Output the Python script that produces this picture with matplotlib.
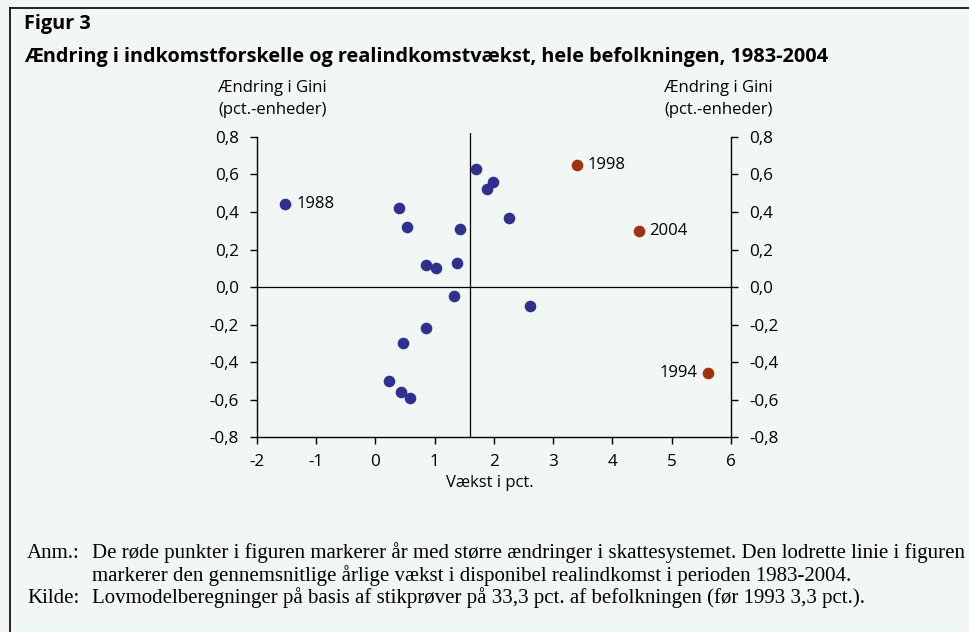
"""
Scatter: change in Gini vs real income growth, 1983-2004.
"""

import numpy as np
import matplotlib
matplotlib.use('Agg')
import matplotlib.pyplot as plt
from matplotlib.ticker import FuncFormatter
from matplotlib.lines import Line2D

# Data

blue_growth = [0.40, 0.54, 0.85, 1.03, 1.38, 1.43, 1.70, 1.89, 1.99, 2.25,
               1.33, 2.61, 0.85, 0.46, 0.23, 0.44, 0.58]
blue_gini = [0.42, 0.32, 0.12, 0.10, 0.13, 0.31, 0.63, 0.52, 0.56, 0.37,
             -0.05, -0.10, -0.22, -0.30, -0.50, -0.56, -0.59]

year_1988 = [-1.52, 0.44]
red_years = ['1998', '2004', '1994']
red_growth = [3.41, 4.45, 5.62]
red_gini = [0.65, 0.30, -0.46]

mean_growth = 1.6

x_ticks = [-2, -1, 0, 1, 2, 3, 4, 5, 6]
y_ticks = [-0.8, -0.6, -0.4, -0.2, 0.0, 0.2, 0.4, 0.6, 0.8]

blue = '#2e3092'
red = '#a2320a'
bg = '#f0f7f4'

plt.rcParams['font.family'] = ['Open Sans', 'DejaVu Sans']

fig = plt.figure(figsize=(9.69, 6.32), dpi=100, facecolor=bg)

# frame lines of the figure box
fig.add_artist(Line2D([10/969, 1.0], [1 - 8/632, 1 - 8/632], color='black', lw=1.2,
                      transform=fig.transFigure))
fig.add_artist(Line2D([10/969, 10/969], [0, 1 - 8/632], color='black', lw=1.2,
                      transform=fig.transFigure))

fig.text(24/969, 1 - 29.5/632, 'Figur 3', fontsize=14.3, fontweight='bold', va='baseline')
fig.text(24/969, 1 - 62/632,
         'Ændring i indkomstforskelle og realindkomstvækst, hele befolkningen, 1983-2004',
         fontsize=14.3, fontweight='bold', va='baseline')

ax = fig.add_axes([0.265, 0.308, 0.4894, 0.4814])
ax.set_facecolor(bg)
ax.set_xlim(-2, 6)
ax.set_ylim(-0.8, 0.82)

ax.axhline(0, color='black', lw=0.9, zorder=1)
ax.plot([mean_growth, mean_growth], [-0.8, 0.82], color='black', lw=0.9, zorder=1)

ax.scatter(blue_growth, blue_gini, s=70, color=blue, zorder=3, linewidths=0)
ax.scatter([year_1988[0]], [year_1988[1]], s=70, color=blue, zorder=3, linewidths=0)
ax.scatter(red_growth, red_gini, s=70, color=red, zorder=3, linewidths=0)

ax.annotate('1988', (year_1988[0], year_1988[1]), xytext=(8, 0),
            textcoords='offset points', va='center', ha='left', fontsize=12)
for yr, x, y in zip(red_years, red_growth, red_gini):
    if yr == '1994':
        ax.annotate(yr, (x, y), xytext=(-8, 0), textcoords='offset points',
                    va='center', ha='right', fontsize=12)
    else:
        ax.annotate(yr, (x, y), xytext=(7, 0), textcoords='offset points',
                    va='center', ha='left', fontsize=12)

fmt_y = FuncFormatter(lambda v, p: ('%.1f' % v).replace('.', ','))
fmt_x = FuncFormatter(lambda v, p: '%d' % v)

ax.set_xticks(x_ticks)
ax.set_yticks(y_ticks)
ax.xaxis.set_major_formatter(fmt_x)
ax.yaxis.set_major_formatter(fmt_y)
ax.tick_params(direction='out', length=5, width=1, labelsize=12.3, pad=4)
ax.tick_params(axis='x', pad=7)
ax.tick_params(axis='y', pad=8)

for side in ['top', 'right']:
    ax.spines[side].set_visible(False)
ax.spines['left'].set_bounds(-0.8, 0.8)
ax.spines['left'].set_linewidth(1)
ax.spines['bottom'].set_linewidth(1)

ax2 = ax.twinx()
ax2.set_ylim(ax.get_ylim())
ax2.set_yticks(y_ticks)
ax2.yaxis.set_major_formatter(fmt_y)
ax2.tick_params(direction='out', length=5, width=1, labelsize=12.3, pad=8)
for side in ['top', 'left', 'bottom']:
    ax2.spines[side].set_visible(False)
ax2.spines['right'].set_bounds(-0.8, 0.8)
ax2.spines['right'].set_linewidth(1)

fig.text(218/969, 1 - 99/632, 'Ændring i Gini\n(pct.-enheder)', fontsize=12,
         va='center', ha='left', linespacing=1.45)
fig.text(773/969, 1 - 99/632, 'Ændring i Gini\n(pct.-enheder)', fontsize=12,
         va='center', ha='right', multialignment='left', linespacing=1.45)
fig.text(490/969, 1 - 483/632, 'Vækst i pct.', fontsize=12, va='center', ha='center')

# notes
note_kw = dict(fontsize=15.0, family='Liberation Serif', va='baseline', ha='left')
fig.text(27/969, 1 - 558/632, 'Anm.:', **note_kw)
fig.text(92/969, 1 - 558/632,
         'De røde punkter i figuren markerer år med større ændringer i skattesystemet. '
         'Den lodrette linie i figuren', **note_kw)
fig.text(92/969, 1 - 581/632,
         'markerer den gennemsnitlige årlige vækst i disponibel realindkomst i perioden 1983-2004.',
         **note_kw)
fig.text(27/969, 1 - 603/632, 'Kilde:', **note_kw)
fig.text(92/969, 1 - 603/632,
         'Lovmodelberegninger på basis af stikprøver på 33,3 pct. af befolkningen (før 1993 3,3 pct.).',
         **note_kw)

plt.savefig('out.png', dpi=100, facecolor=bg)
